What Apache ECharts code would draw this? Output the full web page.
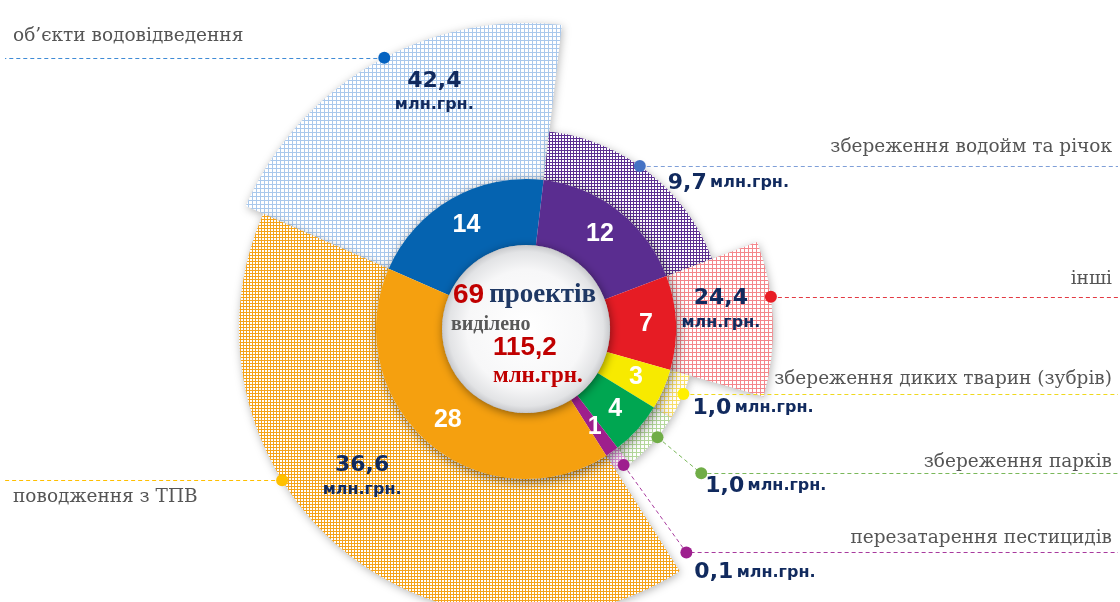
<!DOCTYPE html>
<html><head><meta charset="utf-8">
<script src="https://cdn.jsdelivr.net/npm/echarts@6/dist/echarts.min.js"></script>
<style>html,body{margin:0;padding:0;background:#fff}#c{width:1120px;height:602px}</style>
</head><body><div id="c"></div>
<script>
// ---------- DATA ----------
const categories = [
  'об\u2019єкти водовідведення',
  'збереження водойм та річок',
  'інші',
  'збереження диких тварин (зубрів)',
  'збереження парків',
  'перезатарення пестицидів',
  'поводження з ТПВ'
];
const projectCounts = [14, 12, 7, 3, 4, 1, 28];
const fundingMln = [42.4, 9.7, 24.4, 1.0, 1.0, 0.1, 36.6];
const totalProjects = 69;
const totalFunding = 115.2;
const unitLabel = 'млн.грн.';
const projectsWord = 'проектів';
const allocatedWord = 'виділено';

// ---------- LAYOUT / STYLE ----------
const CX = 526, CY = 329;
const START_ANGLE = 156.3;
const ringColors = ['#0563b0', '#5a2d90', '#e61c24', '#f7ea00', '#00a651', '#9e1f8c', '#f5a00f'];
const dotColors = ['#0563c1', '#4472c4', '#e81c24', '#fff000', '#70ad47', '#9e1f8e', '#ffc000'];
const lineColors = ['#3f8bd6', '#7f9fd8', '#e33a43', '#efd81e', '#7ab85a', '#a83a9e', '#ffbf00'];
const patternDefs = [
  ['#a9c8ec', 4, 1], ['#5d2f91', 3, 1], ['#f4868b', 4, 1], ['#f9df6a', 4, 1],
  ['#b5d99c', 4, 1], ['#e69ade', 3, 1], ['#f5a319', 3, 1]
];
// annotation layout (frac along sector angle, side, elbow radius px, name offset, value label placement)
const ANNOT = [
  {frac: 0.53, side: 'left',  nameDy: -22, mode: 'stack',  vdx: 50,  vdy: 34},
  {frac: 0.45, side: 'right', nameDy: -19, mode: 'inline', vdx: 28,  vdy: 17},
  {frac: 0.36, side: 'right', nameDy: -18, mode: 'stack',  vdx: -50, vdy: 13},
  {frac: 0.42, side: 'right', nameDy: -15, mode: 'inline', vdx: 9,   vdy: 14},
  {frac: 0.38, side: 'right', nameDy: -11, mode: 'inline', vdx: 4,   vdy: 13, elbowR: 227},
  {frac: 0.37, side: 'right', nameDy: -14, mode: 'inline', vdx: 8,   vdy: 20, elbowR: 275},
  {frac: 0.62, side: 'left',  nameDy: 17,  mode: 'stack',  vdx: 80,  vdy: -4}
];

function gridPattern(color, pitch, lw) {
  const c = document.createElement('canvas');
  c.width = c.height = pitch;
  const g = c.getContext('2d');
  g.fillStyle = '#ffffff'; g.fillRect(0, 0, pitch, pitch);
  g.fillStyle = color;
  g.fillRect(0, 0, pitch, lw);
  g.fillRect(0, 0, lw, pitch);
  return {image: c, repeat: 'repeat'};
}
const patterns = patternDefs.map(d => gridPattern(d[0], d[1], d[2]));

// cumulative angle positions from project counts
const sectorData = [];
let acc = 0;
projectCounts.forEach((n, i) => { sectorData.push([acc, acc + n, fundingMln[i]]); acc += n; });

const fmt = v => v.toFixed(1).replace('.', ',');

function renderSector(params, api) {
  const i = params.dataIndex;
  const s = api.value(0), e = api.value(1), v = api.value(2);
  const p0 = api.coord([v, s]);
  const p1 = api.coord([v, e]);
  const cs = params.coordSys;
  return {
    type: 'sector',
    shape: {cx: cs.cx, cy: cs.cy, r0: 0, r: p1[2], startAngle: -p0[3], endAngle: -p1[3], clockwise: true},
    style: {fill: patterns[i], shadowBlur: 8, shadowOffsetX: 1, shadowOffsetY: 2, shadowColor: 'rgba(0,0,0,0.28)'}
  };
}

const NAVY = '#112a5e';
function renderAnnot(params, api) {
  const i = params.dataIndex;
  const L = ANNOT[i];
  const s = api.value(0), e = api.value(1), v = api.value(2);
  const cs = params.coordSys;
  const p = api.coord([v, s + L.frac * (e - s)]);
  const ang = p[3];
  const W = api.getWidth();
  let ax = p[0], ay = p[1];
  const dots = [[ax, ay]];
  const pts = [[ax, ay]];
  if (L.elbowR) {
    const bx = cs.cx + L.elbowR * Math.cos(ang);
    const by = cs.cy - L.elbowR * Math.sin(ang);
    pts.push([bx, by]); dots.push([bx, by]);
    ax = bx; ay = by;
  }
  const ly = Math.round(ay) + 0.5;
  pts[pts.length - 1] = [pts[pts.length - 1][0], ly];
  const ex = L.side === 'left' ? 5 : W - 2;
  pts.push([ex, ly]);
  const children = [];
  children.push({type: 'polyline', shape: {points: pts},
    style: {stroke: lineColors[i], lineWidth: 1, lineDash: [4, 3], fill: null}});
  dots.forEach(d => children.push({type: 'circle', shape: {cx: d[0], cy: d[1], r: 6}, style: {fill: dotColors[i]}}));
  children.push({type: 'text', x: L.side === 'left' ? 13 : W - 8, y: ay + L.nameDy,
    style: {text: categories[i], fill: '#555555', fontSize: 18.5, fontFamily: 'DejaVu Serif',
      align: L.side === 'left' ? 'left' : 'right', verticalAlign: 'middle'}});
  const num = fmt(v);
  if (L.mode === 'stack') {
    children.push({type: 'text', x: ax + L.vdx, y: ay + L.vdy,
      style: {text: '{n|' + num + '}\n{u|' + unitLabel + '}', align: 'center', verticalAlign: 'middle',
        rich: {
          n: {fontSize: 22, fontWeight: 'bold', fontFamily: 'DejaVu Sans', fill: NAVY, lineHeight: 27, align: 'center'},
          u: {fontSize: 16, fontWeight: 'bold', fontFamily: 'DejaVu Sans', fill: NAVY, lineHeight: 22, align: 'center'}
        }}});
  } else {
    children.push({type: 'text', x: ax + L.vdx, y: ay + L.vdy,
      style: {text: '{n|' + num + '} {u|' + unitLabel + '}', align: 'left', verticalAlign: 'middle',
        rich: {
          n: {fontSize: 22, fontWeight: 'bold', fontFamily: 'DejaVu Sans', fill: NAVY},
          u: {fontSize: 16, fontWeight: 'bold', fontFamily: 'DejaVu Sans', fill: NAVY}
        }}});
  }
  return {type: 'group', children: children};
}

const chart = echarts.init(document.getElementById('c'), null, {renderer: 'canvas'});
const maxFunding = Math.max.apply(null, fundingMln);
const option = {
  backgroundColor: '#ffffff',
  animation: false,
  polar: {center: [CX, CY], radius: [167, 306]},
  angleAxis: {type: 'value', min: 0, max: totalProjects, startAngle: START_ANGLE, clockwise: true, show: false},
  radiusAxis: {type: 'value', min: 0, max: maxFunding, show: false},
  series: [
    {type: 'custom', coordinateSystem: 'polar', data: sectorData, renderItem: renderSector, z: 1, silent: true},
    {type: 'pie', center: [CX, CY], radius: [84, 150], silent: true, z: 2, label: {show: false}, labelLine: {show: false},
      data: [{value: 1, itemStyle: {color: '#ffffff', shadowBlur: 12, shadowOffsetX: 2, shadowOffsetY: 3, shadowColor: 'rgba(0,0,0,0.5)'}}]},
    {type: 'pie', center: [CX, CY], radius: [84, 150], startAngle: START_ANGLE, clockwise: true, silent: true, z: 3,
      avoidLabelOverlap: false, labelLine: {show: false},
      label: {show: true, position: 'inside', color: '#ffffff', fontSize: 25, fontWeight: 'bold', fontFamily: 'Liberation Sans',
        formatter: p => String(p.value)},
      itemStyle: {borderWidth: 0},
      data: projectCounts.map((n, i) => ({value: n, name: categories[i], itemStyle: {color: ringColors[i]}}))},
    {type: 'pie', center: [CX, CY], radius: [0, 84], silent: true, z: 4, label: {show: false}, labelLine: {show: false},
      data: [{value: 1, itemStyle: {
        color: {type: 'radial', x: 0.5, y: 0.5, r: 0.5, colorStops: [
          {offset: 0, color: '#ffffff'}, {offset: 0.7, color: '#f7f7f8'}, {offset: 0.92, color: '#e2e3e5'}, {offset: 1, color: '#c8c9cc'}]},
        shadowBlur: 10, shadowOffsetX: 1, shadowOffsetY: 2, shadowColor: 'rgba(0,0,0,0.45)'}}]},
    {type: 'custom', coordinateSystem: 'polar', data: sectorData, renderItem: renderAnnot, z: 5, silent: true}
  ],
  graphic: [
    {type: 'text', x: CX - 73, y: CY - 34, z: 10, style: {
      text: '{a|' + totalProjects + '}{s| }{b|' + projectsWord + '}', verticalAlign: 'middle', align: 'left',
      rich: {a: {fontSize: 28, fontWeight: 'bold', fontFamily: 'Liberation Sans', fill: '#c00000'},
             s: {fontSize: 12, width: 5},
             b: {fontSize: 27, fontWeight: 'bold', fontFamily: 'Liberation Serif', fill: '#1f3864'}}}},
    {type: 'text', x: CX - 75, y: CY - 4, z: 10, style: {text: allocatedWord, fontSize: 20, fontWeight: 'bold',
      fontFamily: 'Liberation Serif', fill: '#595959', verticalAlign: 'middle', align: 'left'}},
    {type: 'text', x: CX - 33, y: CY + 19, z: 10, style: {text: fmt(totalFunding), fontSize: 26, fontWeight: 'bold',
      fontFamily: 'Liberation Sans', fill: '#c00000', verticalAlign: 'middle', align: 'left'}},
    {type: 'text', x: CX - 33, y: CY + 47, z: 10, style: {text: unitLabel, fontSize: 23, fontWeight: 'bold',
      fontFamily: 'Liberation Serif', fill: '#c00000', verticalAlign: 'middle', align: 'left'}}
  ]
};
chart.setOption(option);
</script></body></html>
